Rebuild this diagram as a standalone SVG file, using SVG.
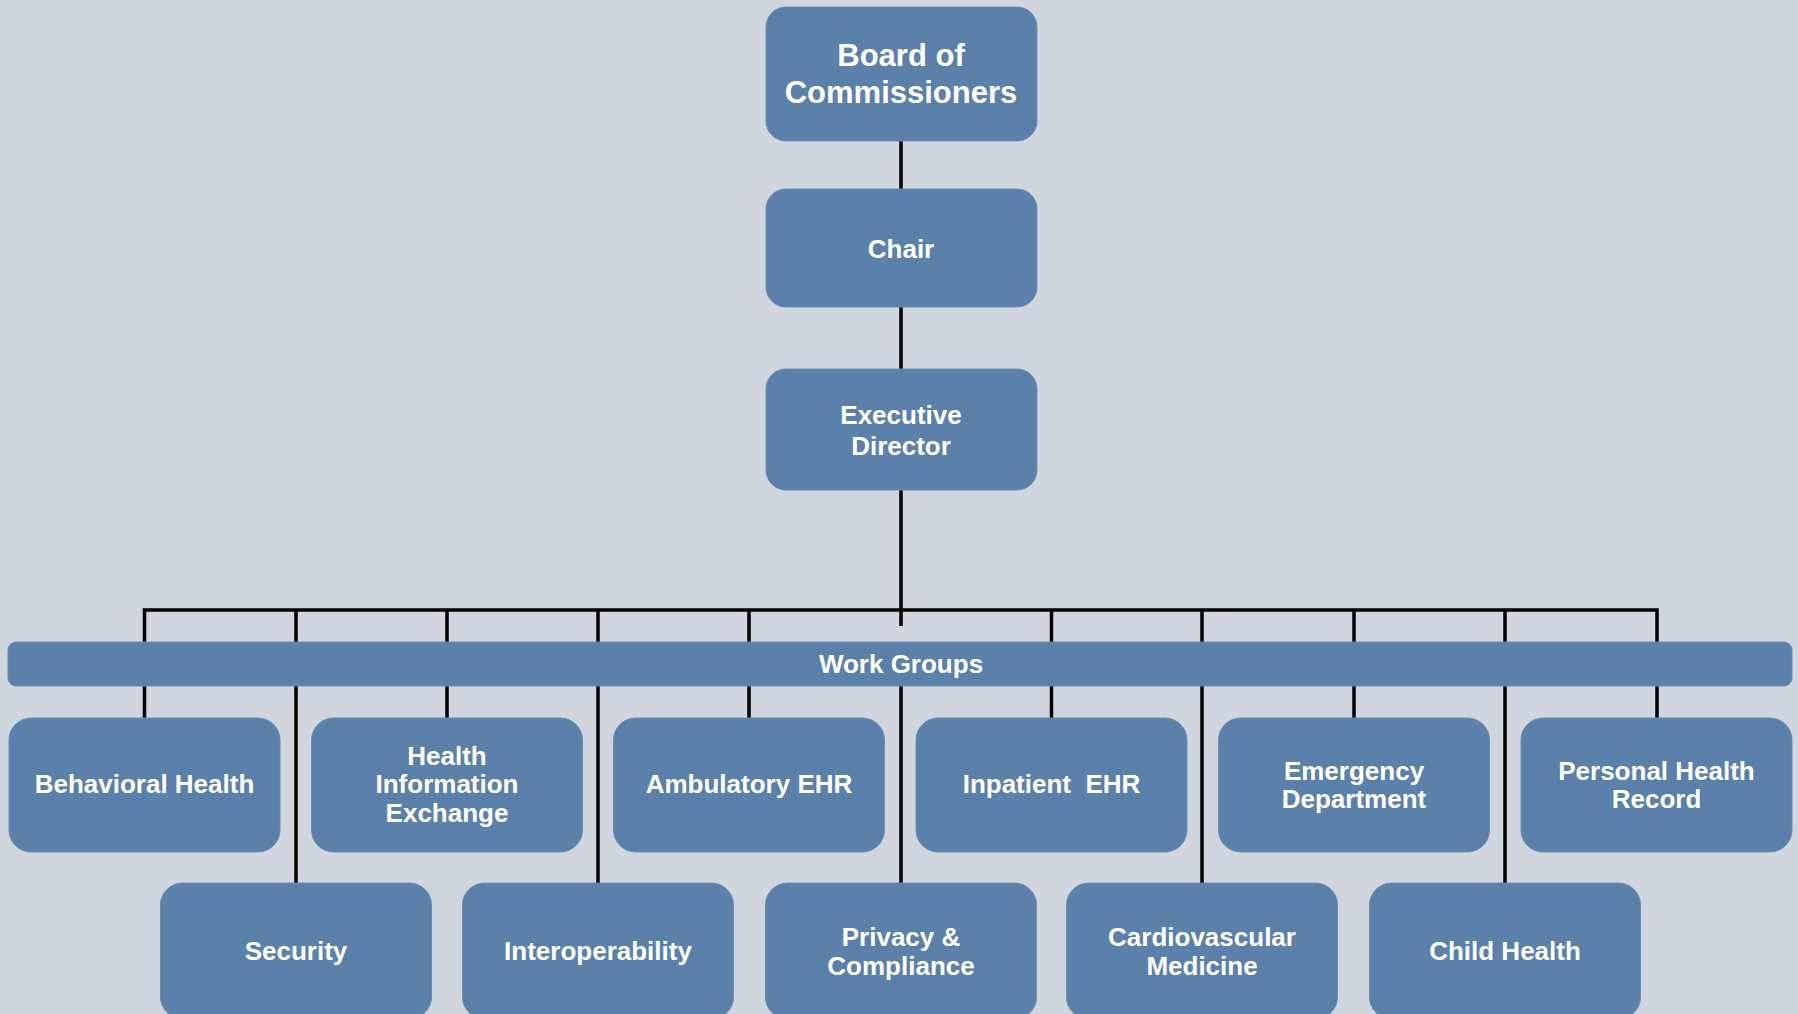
<svg xmlns="http://www.w3.org/2000/svg" width="1798" height="1014" viewBox="0 0 1798 1014">
<style>
.box{fill:#5B80A9;stroke:#6A8DB3;stroke-width:1}
.t{font-family:"Liberation Sans",Arial,sans-serif;font-weight:bold;font-size:26px;fill:#FFFFFF;text-anchor:middle}
.big{font-size:31px}
.ln{stroke:#000000;stroke-width:3.5;fill:none}
</style>
<rect width="1798" height="1014" fill="#D1D5DD"/>
<g id="connectors">
<path class="ln" d="M901 141V189M901 307V369M901 490V626"/>
<path class="ln" d="M144.5 642V610H1657V642"/>
<path class="ln" d="M296 610V642M447 610V642M598 610V642M749 610V642M1051.5 610V642M1202 610V642M1354 610V642M1505 610V642"/>
<path class="ln" d="M144.5 686V718M447 686V718M749 686V718M1051.5 686V718M1354 686V718M1657 686V718"/>
<path class="ln" d="M296 686V883M598 686V883M901 686V883M1202 686V883M1505 686V883"/>
</g>
<g id="board"><rect class="box" x="766" y="7" width="271" height="134" rx="20"/>
<text class="t big" x="901" y="66">Board of</text><text class="t big" x="901" y="103">Commissioners</text></g>
<g id="chair"><rect class="box" x="766" y="189" width="271" height="118" rx="20"/>
<text class="t" x="901" y="258">Chair</text></g>
<g id="exec"><rect class="box" x="766" y="369" width="271" height="121" rx="20"/>
<text class="t" x="901" y="424">Executive</text><text class="t" x="901" y="455">Director</text></g>
<g id="workgroups"><rect class="box" x="8" y="642" width="1784" height="44" rx="8"/>
<text class="t" x="901" y="673">Work Groups</text></g>
<g id="behavioral"><rect class="box" x="9" y="718" width="271" height="134" rx="22"/>
<text class="t" x="144.5" y="793">Behavioral Health</text></g>
<g id="hie"><rect class="box" x="311.5" y="718" width="271" height="134" rx="22"/>
<text class="t" x="447" y="765">Health</text><text class="t" x="447" y="793">Information</text><text class="t" x="447" y="822">Exchange</text></g>
<g id="ambulatory"><rect class="box" x="613.5" y="718" width="271" height="134" rx="22"/>
<text class="t" x="749" y="793">Ambulatory EHR</text></g>
<g id="inpatient"><rect class="box" x="916" y="718" width="271" height="134" rx="22"/>
<text class="t" x="1051.5" y="793" xml:space="preserve" style="white-space:pre">Inpatient  EHR</text></g>
<g id="emergency"><rect class="box" x="1218.5" y="718" width="271" height="134" rx="22"/>
<text class="t" x="1354" y="780">Emergency</text><text class="t" x="1354" y="808">Department</text></g>
<g id="phr"><rect class="box" x="1521" y="718" width="271" height="134" rx="22"/>
<text class="t" x="1656.5" y="780">Personal Health</text><text class="t" x="1656.5" y="808">Record</text></g>
<g id="security"><rect class="box" x="160.5" y="883" width="271" height="136" rx="22"/>
<text class="t" x="296" y="960">Security</text></g>
<g id="interop"><rect class="box" x="462.5" y="883" width="271" height="136" rx="22"/>
<text class="t" x="598" y="960">Interoperability</text></g>
<g id="privacy"><rect class="box" x="765.5" y="883" width="271" height="136" rx="22"/>
<text class="t" x="901" y="946">Privacy &amp;</text><text class="t" x="901" y="975">Compliance</text></g>
<g id="cardio"><rect class="box" x="1066.5" y="883" width="271" height="136" rx="22"/>
<text class="t" x="1202" y="946">Cardiovascular</text><text class="t" x="1202" y="975">Medicine</text></g>
<g id="child"><rect class="box" x="1369.5" y="883" width="271" height="136" rx="22"/>
<text class="t" x="1505" y="960">Child Health</text></g>
</svg>
